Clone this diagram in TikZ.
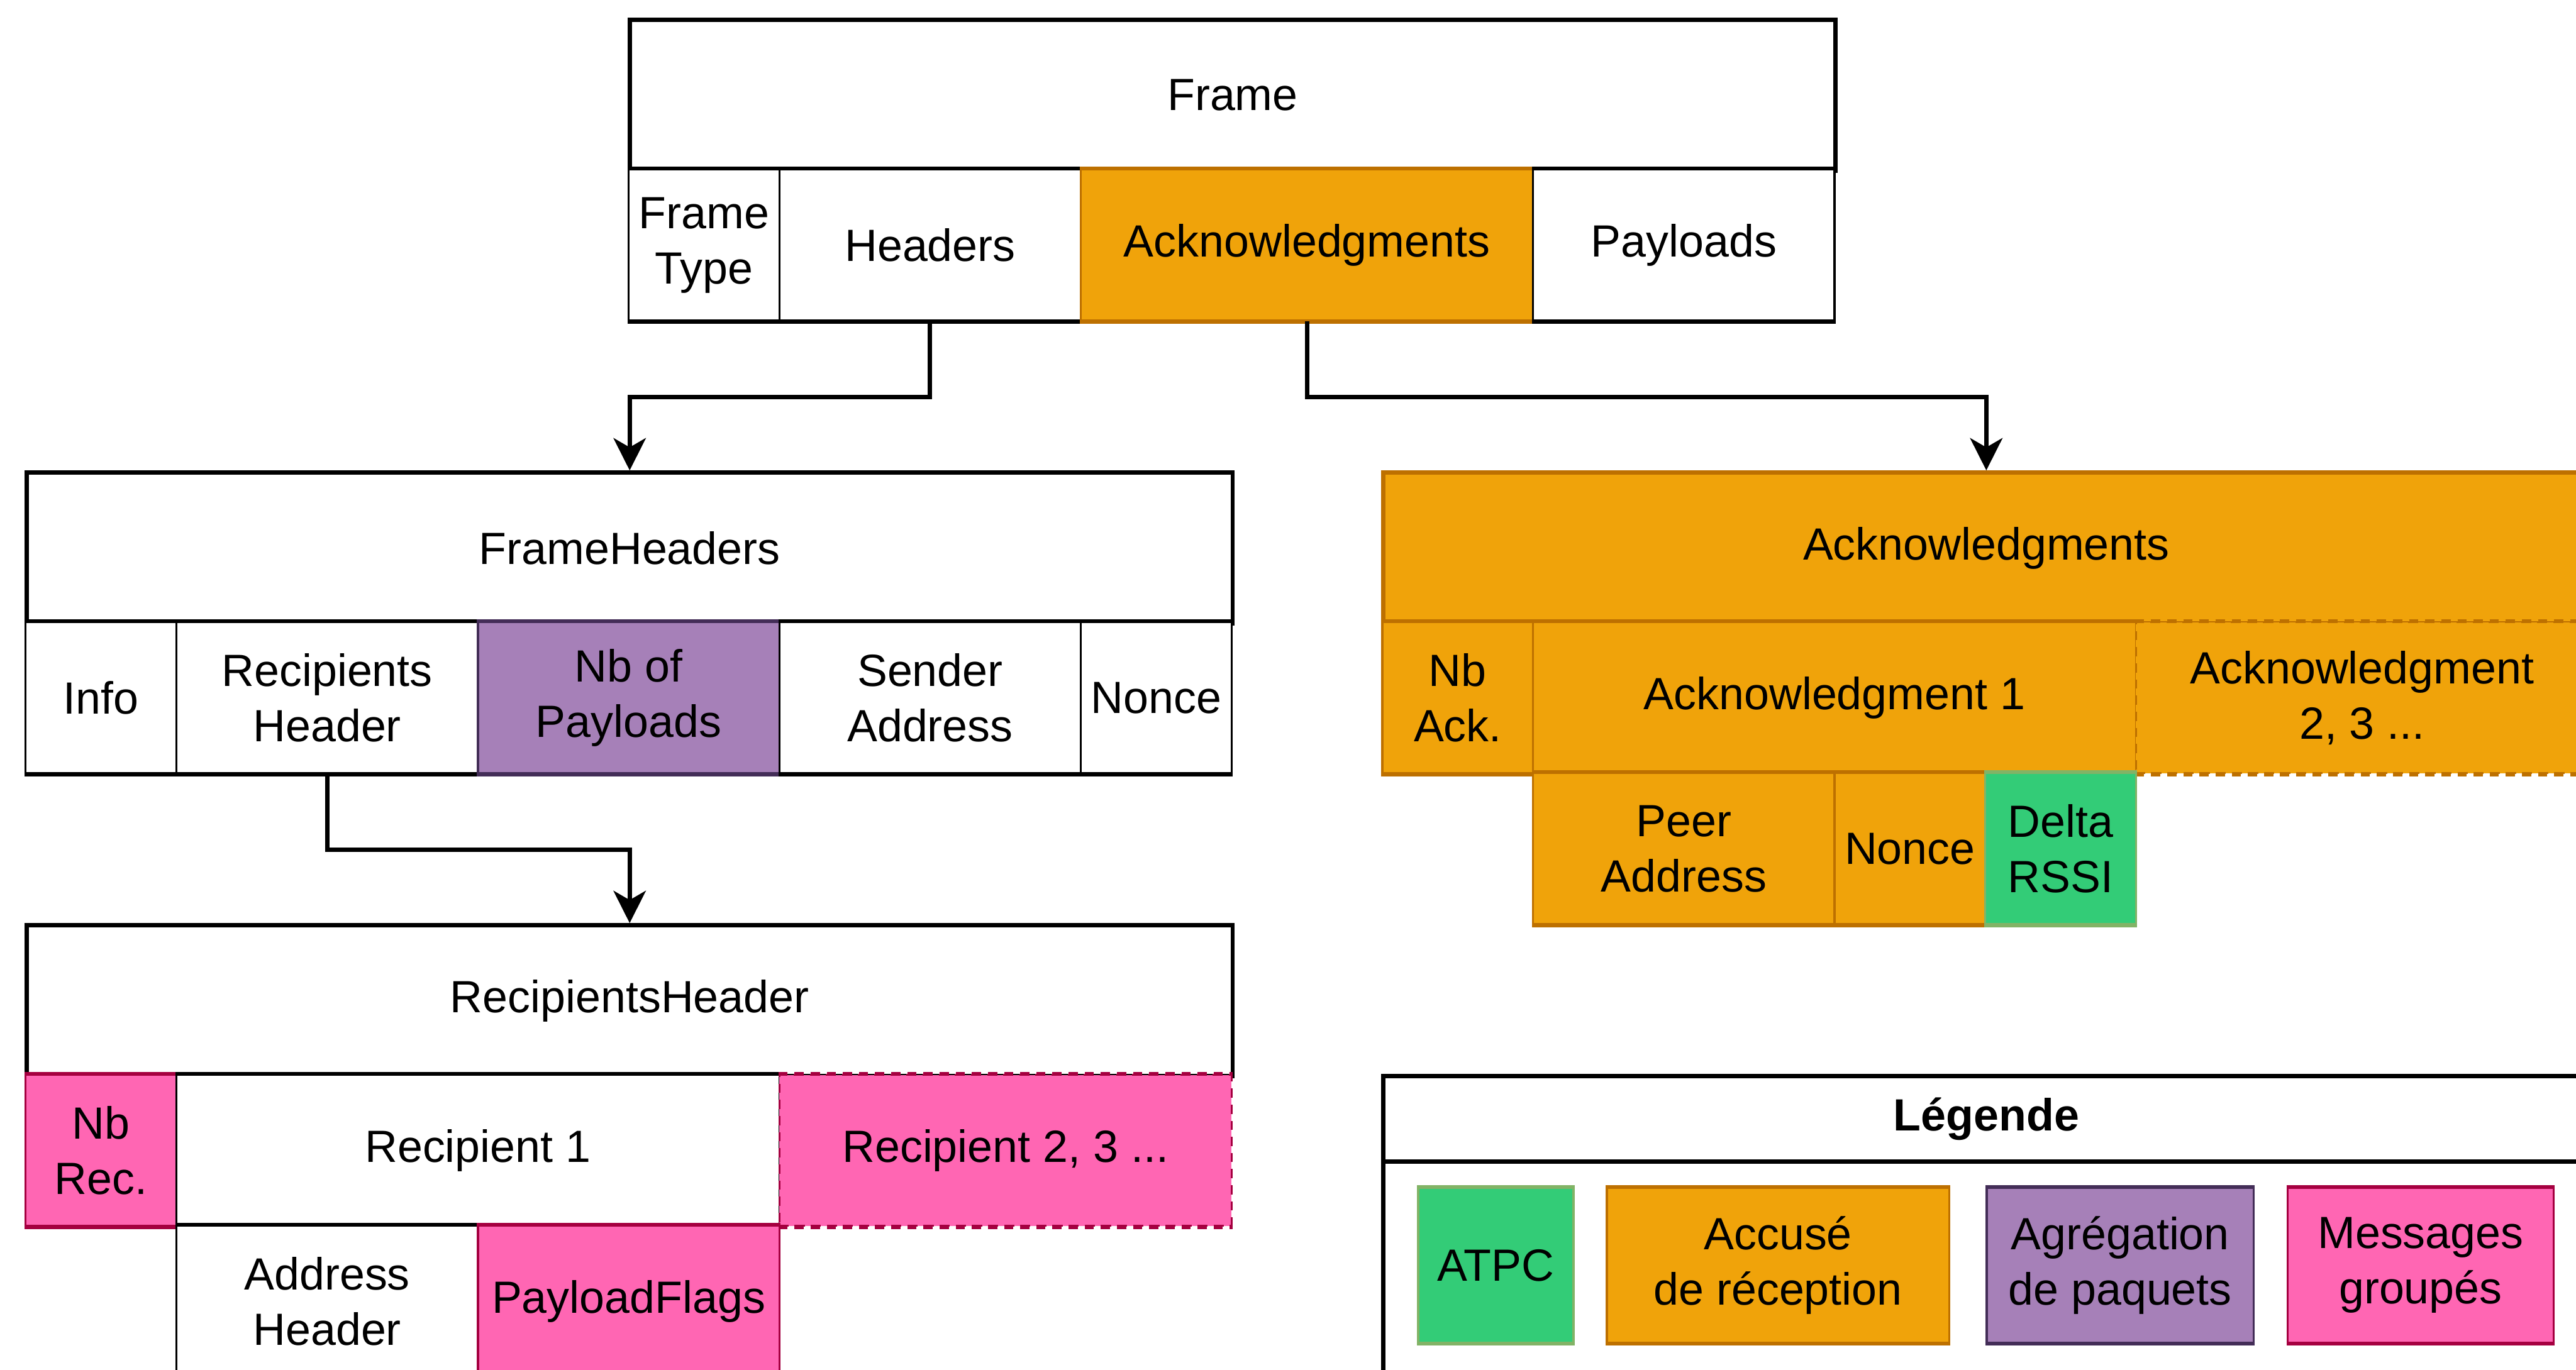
\documentclass[tikz,border=0pt]{standalone}
\usepackage{fontspec}
\setmainfont{Liberation Sans}
\usetikzlibrary{arrows.meta}
\definecolor{ackfill}{HTML}{F0A30A}
\definecolor{ackline}{HTML}{BD7000}
\definecolor{aggfill}{HTML}{A680B8}
\definecolor{aggline}{HTML}{432D57}
\definecolor{grpfill}{HTML}{FF66B3}
\definecolor{grpline}{HTML}{A50040}
\definecolor{atpcfill}{HTML}{33CC77}
\definecolor{atpcline}{HTML}{82B366}
\tikzset{
  cellbase/.style={line width=0.9pt, anchor=north west, inner sep=0pt,
    align=center, minimum height=2.303cm},
  units/.style={minimum width=#1*2.3cm},
  rule/.style={draw=#1, line width=1.8pt},
  cell/.style={cellbase, draw=#1,
    append after command={(\tikzlastnode.north west) edge[rule=#1] (\tikzlastnode.north east)
      (\tikzlastnode.south west) edge[rule=#1] (\tikzlastnode.south east)}},
  cell/.default=black,
  dashcell/.style={cellbase, draw=#1, dash pattern=on 4pt off 3pt,
    append after command={(\tikzlastnode.north west) edge[rule=#1, dash pattern=on 4pt off 3pt] (\tikzlastnode.north east)
      (\tikzlastnode.south west) edge[rule=#1, dash pattern=on 4pt off 3pt] (\tikzlastnode.south east)}},
  title/.style={cellbase, draw=#1, line width=1.8pt},
  title/.default=black,
  link/.style={line width=1.9pt, -{Stealth[length=14pt, width=14pt, inset=4pt]}},
}
\begin{document}
\begin{tikzpicture}[x=2.3cm, y=-2.303cm, font=\fontsize{19.6}{24}\selectfont]
  \useasboundingbox (-0.1635,-0.1175) rectangle (16.926,8.958);
  \clip (-0.1635,-0.1175) rectangle (16.926,8.958);

  % Frame
  \node[title, fill=white, units=8] (frame) at (4,0) {Frame};
  \node[cell, fill=white, units=1] (ftype) at (4,1) {Frame\\Type};
  \node[cell, fill=white, units=2] (fhdr) at (5,1) {Headers};
  \node[cell=ackline, fill=ackfill, units=3] (fack) at (7,1) {Acknowledgments};
  \node[cell, fill=white, units=2] (fpay) at (10,1) {Payloads};

  % FrameHeaders
  \node[title, fill=white, units=8] (fheaders) at (0,3) {FrameHeaders};
  \node[cell, fill=white, units=1] (hinfo) at (0,4) {Info};
  \node[cell, fill=white, units=2] (hrec) at (1,4) {Recipients\\Header};
  \node[cell=aggline, fill=aggfill, units=2] (hnbp) at (3,4) {Nb of\\Payloads};
  \node[cell, fill=white, units=2] (hsnd) at (5,4) {Sender\\Address};
  \node[cell, fill=white, units=1] (hnonce) at (7,4) {Nonce};

  % Acknowledgments
  \node[title=ackline, fill=ackfill, units=8] (acks) at (9,3) {Acknowledgments};
  \node[cell=ackline, fill=ackfill, units=1] (anb) at (9,4) {Nb\\Ack.};
  \node[cell=ackline, fill=ackfill, units=4] (ack1) at (10,4) {Acknowledgment 1};
  \node[dashcell=ackline, fill=ackfill, units=3] (ackn) at (14,4) {Acknowledgment\\2, 3 ...};
  \node[cell=ackline, fill=ackfill, units=2] (apeer) at (10,5) {Peer\\Address};
  \node[cell=ackline, fill=ackfill, units=1] (anonce) at (12,5) {Nonce};
  \node[cell=atpcline, fill=atpcfill, units=1] (arssi) at (13,5) {Delta\\RSSI};

  % RecipientsHeader
  \node[title, fill=white, units=8] (rhdr) at (0,6) {RecipientsHeader};
  \node[cell=grpline, fill=grpfill, units=1] (rnb) at (0,7) {Nb\\Rec.};
  \node[cell, fill=white, units=4] (rec1) at (1,7) {Recipient 1};
  \node[dashcell=grpline, fill=grpfill, units=3] (recn) at (5,7) {Recipient 2, 3 ...};
  \node[cell, fill=white, units=2] (raddr) at (1,8) {Address\\Header};
  \node[cell=grpline, fill=grpfill, units=2] (rflags) at (3,8) {PayloadFlags};

  % legend
  \node[title, fill=white, units=8, minimum height=5cm] (legbody) at (9,7.567) {};
  \node[title, fill=white, units=8, minimum height=0.567*2.303cm] (legtitle) at (9,7) {\bfseries Légende};
  \node[cell=atpcline, fill=atpcfill, units=1.03, minimum height=2.36cm] (katpc) at (9.238,7.749) {ATPC};
  \node[cell=ackline, fill=ackfill, units=2.27, minimum height=2.36cm] (kack) at (10.49,7.749) {Accusé\\de réception};
  \node[cell=aggline, fill=aggfill, units=1.77, minimum height=2.36cm] (kagg) at (13.01,7.749) {Agrégation\\de paquets};
  \node[cell=grpline, fill=grpfill, units=1.764, minimum height=2.36cm] (kgrp) at (15.006,7.749) {Messages\\groupés};

  \draw[link] (fhdr.south) -- ++(0,0.5) -| (fheaders.north);
  \draw[link] (fack.south) -- ++(0,0.5) -| (acks.north);
  \draw[link] (hrec.south) -- ++(0,0.5) -| (rhdr.north);
\end{tikzpicture}
\end{document}
